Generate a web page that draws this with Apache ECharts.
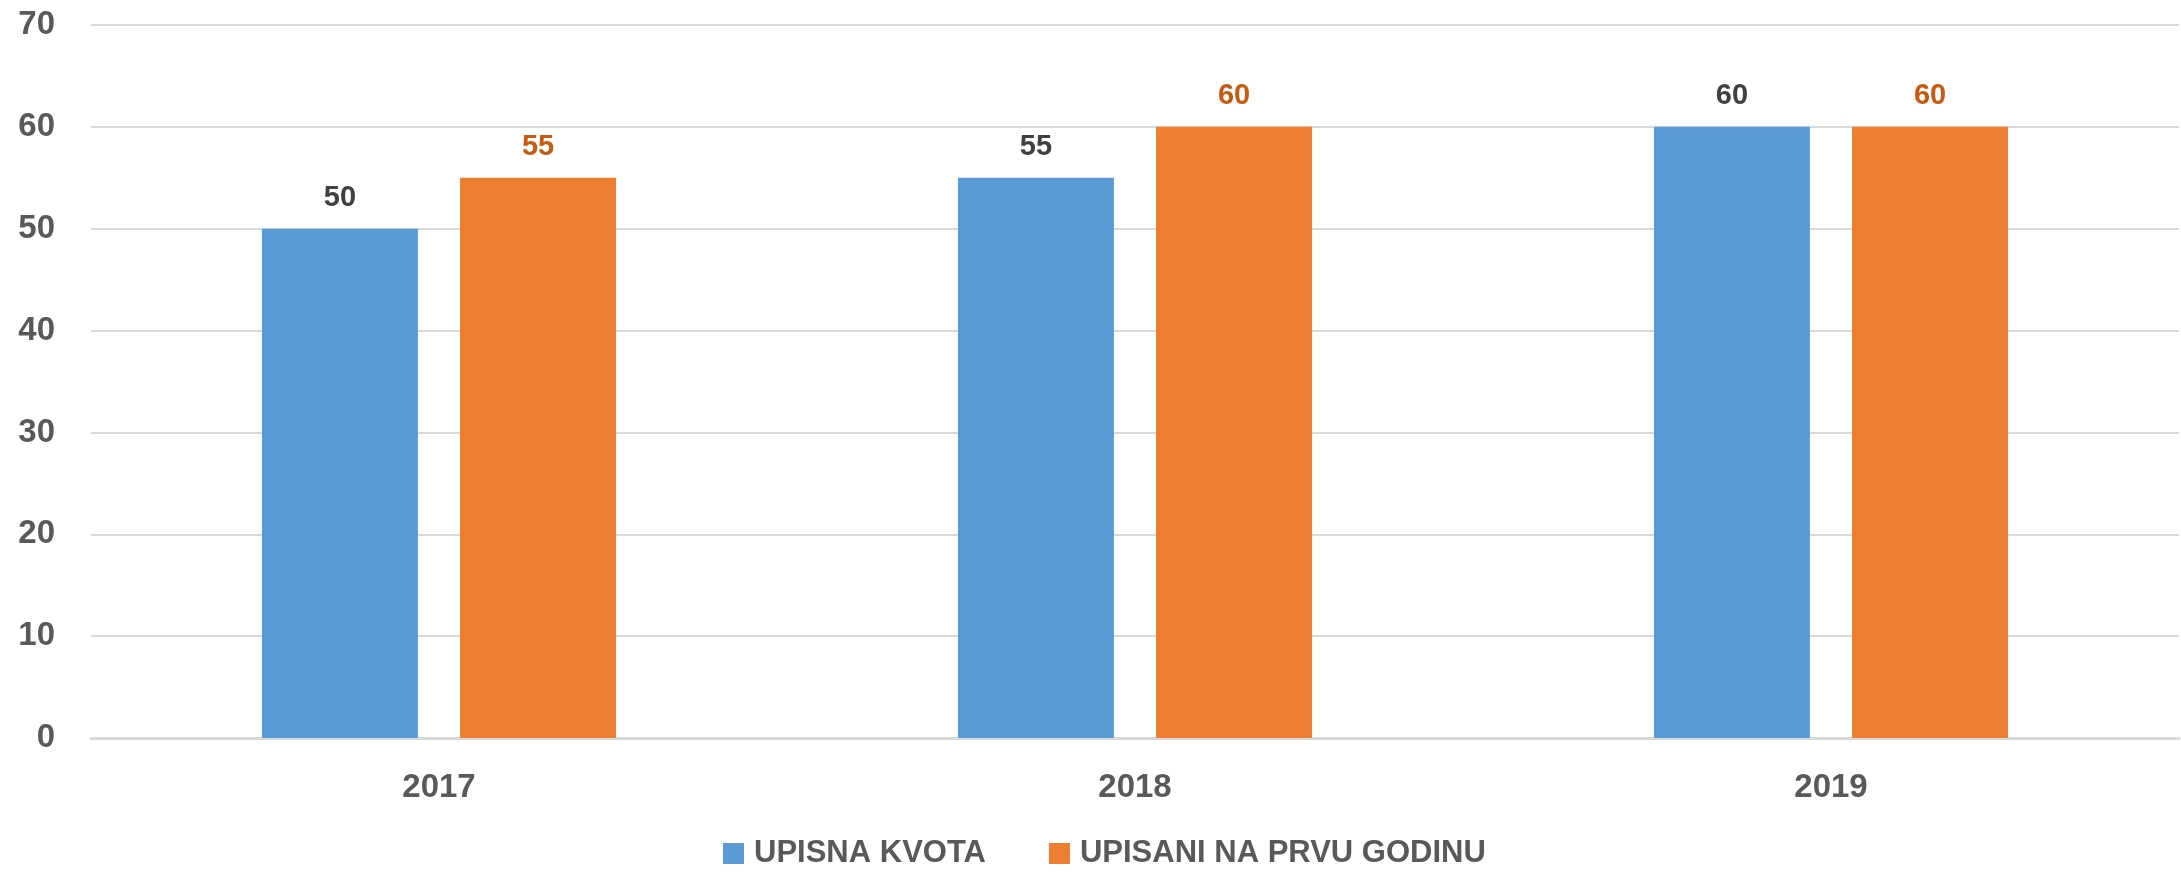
<!DOCTYPE html>
<html>
<head>
<meta charset="utf-8">
<script src="https://cdn.jsdelivr.net/npm/echarts@6/dist/echarts.min.js"></script>
<style>
  html, body { margin: 0; padding: 0; background: #fff; }
  #main { width: 2181px; height: 872px; }
</style>
</head>
<body>
<div id="main"></div>
<script>
    var godine = ['2017', '2018', '2019'];
    var upisnaKvota = [50, 55, 60];
    var upisaniPrva = [55, 60, 60];
    var yTicks = [0, 10, 20, 30, 40, 50, 60, 70];

    var font = '"Liberation Sans", Arial, sans-serif';
    var myChart = echarts.init(document.getElementById('main'));

    var option = {
        backgroundColor: '#ffffff',
        animation: false,
        grid: { left: 91, right: 2, top: 25, bottom: 134 },
        legend: {
            top: 838,
            left: 723,
            padding: 0,
            itemWidth: 21,
            itemHeight: 21,
            itemGap: 63,
            icon: 'rect',
            textStyle: { fontFamily: font, fontWeight: 'bold', fontSize: 31, color: '#595959', padding: [0, 0, 0, 5] },
            data: ['UPISNA KVOTA', 'UPISANI NA PRVU GODINU']
        },
        xAxis: {
            type: 'category',
            data: godine,
            axisTick: { show: false },
            axisLine: { lineStyle: { color: '#d9d9d9', width: 3 } },
            axisLabel: { fontFamily: font, fontWeight: 'bold', fontSize: 33, color: '#595959', margin: 33 }
        },
        yAxis: {
            type: 'value',
            min: yTicks[0],
            max: yTicks[yTicks.length - 1],
            interval: 10,
            axisLine: { show: false },
            axisTick: { show: false },
            splitLine: { lineStyle: { color: '#d9d9d9', width: 2 } },
            axisLabel: { fontFamily: font, fontWeight: 'bold', fontSize: 33, color: '#595959', margin: 36 }
        },
        series: [
            {
                name: 'UPISNA KVOTA',
                type: 'bar',
                data: upisnaKvota,
                barWidth: 156,
                barGap: '27%',
                itemStyle: { color: '#5b9bd5' },
                label: { show: true, position: 'top', distance: 16, fontFamily: font, fontWeight: 'bold', fontSize: 29, color: '#404040' }
            },
            {
                name: 'UPISANI NA PRVU GODINU',
                type: 'bar',
                data: upisaniPrva,
                barWidth: 156,
                itemStyle: { color: '#ed7d31' },
                label: { show: true, position: 'top', distance: 16, fontFamily: font, fontWeight: 'bold', fontSize: 29, color: '#c55a11' }
            }
        ]
    };
    myChart.setOption(option);
</script>
</body>
</html>
